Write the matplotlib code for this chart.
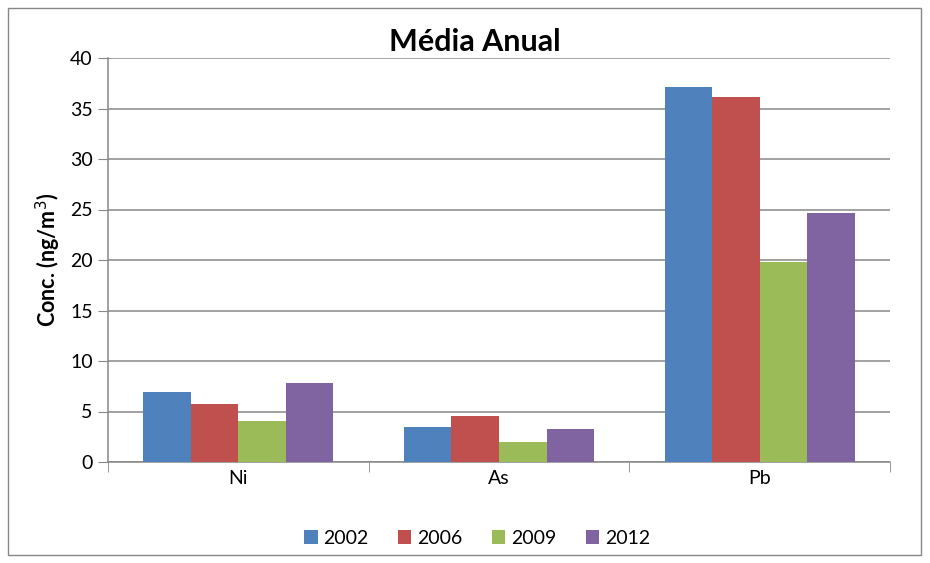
import matplotlib
matplotlib.use("Agg")
import matplotlib.pyplot as plt
from matplotlib.patches import Rectangle
import numpy as np

plt.rcParams['font.family'] = ['Lato', 'DejaVu Sans']

# dados
elementos = ["Ni", "As", "Pb"]
anos = ["2002", "2006", "2009", "2012"]
v2002 = [6.9, 3.5, 37.1]
v2006 = [5.7, 4.6, 36.1]
v2009 = [4.1, 2.0, 19.8]
v2012 = [7.8, 3.3, 24.7]
cores = ["#4F81BD", "#C0504D", "#9BBB59", "#8064A2"]

fig = plt.figure(figsize=(9.3, 5.63), dpi=100)
ax = fig.add_axes([108/930, 101/563, 782/930, 404/563])

x = np.arange(len(elementos))
w = 0.73 / 4
for i, (ano, vals) in enumerate(zip(anos, [v2002, v2006, v2009, v2012])):
    ax.bar(x + (i - 1.5) * w, vals, width=w, color=cores[i], label=ano, zorder=3)

ax.set_xlim(-0.5, 2.5)
ax.set_ylim(0, 40)
ax.set_yticks(range(0, 41, 5))
ax.yaxis.grid(True, color="#878787", linewidth=1.1, zorder=0)
ax.set_xticks(x)
ax.set_xticklabels(elementos, fontsize=14)
ax.tick_params(axis="x", length=0, pad=6)
ax.set_xticks([-0.5, 0.5, 1.5, 2.5], minor=True)
ax.tick_params(axis="x", which="minor", length=7, color="#878787")
ax.tick_params(axis="y", labelsize=14, length=7, color="#878787", pad=4)
for s in ["top", "right"]:
    ax.spines[s].set_visible(False)
for s in ["left", "bottom"]:
    ax.spines[s].set_color("#878787")
    ax.spines[s].set_linewidth(1.1)

ax.set_ylabel("Conc. (ng/m$^3$)", fontsize=15.5, fontweight="bold", labelpad=5)
ax.set_title("Média Anual", fontsize=22, fontweight="bold", pad=5, x=0.469)

ax.legend(loc="upper center", bbox_to_anchor=(0.472, -0.125), ncol=4, frameon=False,
          fontsize=14, handlelength=0.7, handleheight=0.7, handletextpad=0.3,
          columnspacing=1.5)

fig.patches.append(Rectangle((8/930, 8/563), 913/930, 547/563, transform=fig.transFigure,
                             fill=False, edgecolor="#878787", linewidth=1.0))

fig.savefig("out.png", dpi=100)
